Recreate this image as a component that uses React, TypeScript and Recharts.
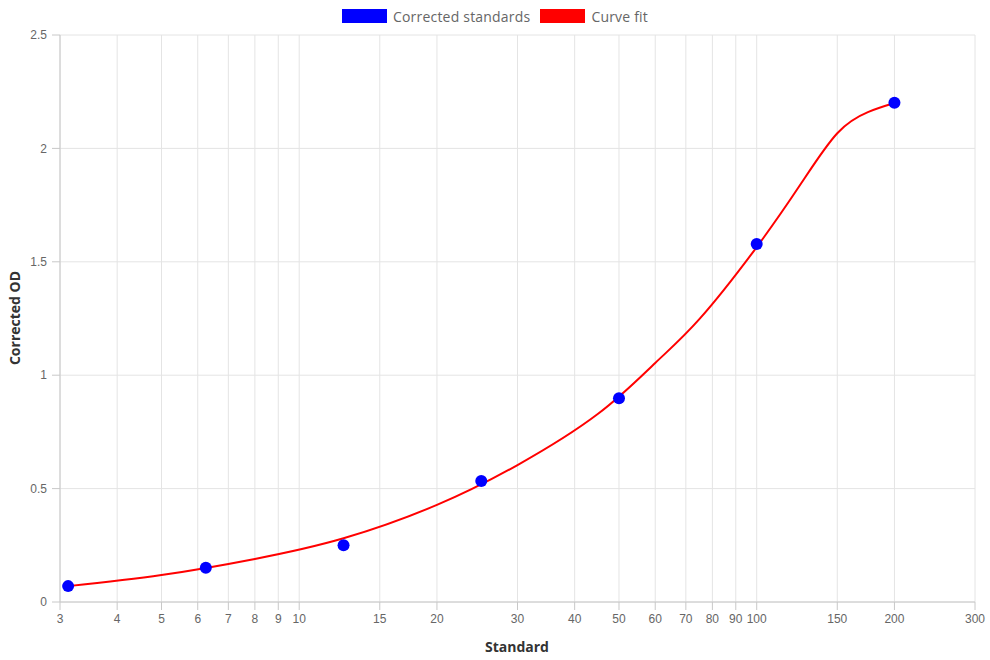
import { CartesianGrid, ComposedChart, Legend, Line, Scatter, XAxis, YAxis } from 'recharts';

// measured standards
const standardX = [3.125, 6.25, 12.5, 25, 50, 100, 200];
const standardOD = [0.07, 0.151, 0.25, 0.533, 0.898, 1.578, 2.201];

// fitted curve
const fitX = [3.125, 5, 8, 12.5, 20, 30, 45, 60, 75, 100, 125, 150, 175, 200];
const fitOD = [0.07, 0.119, 0.19, 0.281, 0.428, 0.604, 0.83, 1.054, 1.248, 1.565, 1.845, 2.067, 2.16, 2.2];

const xTicks = [3, 4, 5, 6, 7, 8, 9, 10, 15, 20, 30, 40, 50, 60, 70, 80, 90, 100, 150, 200, 300];
const yTicks = [0, 0.5, 1, 1.5, 2, 2.5];

const standards = standardX.map((x, i) => ({ x, y: standardOD[i] }));
const fit = fitX.map((x, i) => ({ x, y: fitOD[i] }));

const titleFont = '"Open Sans", "Noto Sans", sans-serif';
const tickFont = '"Liberation Sans", Arial, sans-serif';

function LegendContent() {
  const items = [
    { label: 'Corrected standards', color: '#0000ff' },
    { label: 'Curve fit', color: '#ff0000' },
  ];
  return (
    <div style={{ display: 'flex', justifyContent: 'center', height: 30, paddingTop: 4, boxSizing: 'border-box' }}>
      {items.map((it) => (
        <div key={it.label} style={{ display: 'flex', alignItems: 'center', margin: '0 5px', height: 14 }}>
          <span style={{ width: 45, height: 14, background: it.color, display: 'inline-block', marginRight: 6 }} />
          <span style={{ fontFamily: titleFont, fontSize: 14, letterSpacing: 0.2, color: '#666' }}>{it.label}</span>
        </div>
      ))}
    </div>
  );
}

function YTitle() {
  return (
    <text
      x={14}
      y={318}
      transform="rotate(-90 14 318)"
      textAnchor="middle"
      dominantBaseline="central"
      fontFamily={titleFont}
      fontWeight={700}
      fontSize={14}
      fill="#333"
    >
      Corrected OD
    </text>
  );
}

function XTitle() {
  return (
    <text x={517} y={646} textAnchor="middle" dominantBaseline="central" fontFamily={titleFont} fontWeight={700} fontSize={14} fill="#333">
      Standard
    </text>
  );
}

export default function App() {
  return (
    <div style={{ position: 'absolute', left: 0, top: 0, width: 990, height: 660, background: '#fff' }}>
      <ComposedChart width={990} height={660} margin={{ top: 5, right: 15, bottom: 0, left: 0 }}>
        <CartesianGrid stroke="#e4e4e4" />
        <Legend verticalAlign="top" content={<LegendContent />} wrapperStyle={{ left: 0, width: 990 }} />
        <XAxis
          dataKey="x"
          type="number"
          scale="log"
          domain={[3, 300]}
          ticks={xTicks}
          interval={0}
          allowDataOverflow
          height={58}
          tickSize={8}
          tickMargin={4}
          stroke="#c8c8c8"
          tick={{ fill: '#666', fontSize: 12, fontFamily: tickFont }}
          label={<XTitle />}
        />
        <YAxis
          type="number"
          domain={[0, 2.5]}
          ticks={yTicks}
          interval={0}
          width={60}
          tickSize={8}
          tickMargin={5}
          stroke="#c8c8c8"
          tick={{ fill: '#666', fontSize: 12, fontFamily: tickFont }}
          label={<YTitle />}
        />
        <Line
          data={fit}
          dataKey="y"
          type="natural"
          stroke="#ff0000"
          strokeWidth={2}
          dot={false}
          activeDot={false}
          isAnimationActive={false}
        />
        <Scatter
          data={standards}
          dataKey="y"
          fill="#0000ff"
          isAnimationActive={false}
          shape={(p: any) => <circle cx={p.cx} cy={p.cy} r={6} fill="#0000ff" />}
        />
      </ComposedChart>
    </div>
  );
}
